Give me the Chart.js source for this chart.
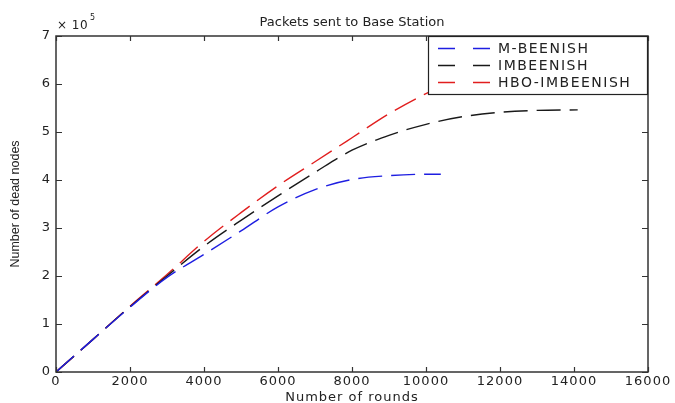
<!DOCTYPE html>
<html>
<head>
<meta charset="utf-8">
<script src="https://cdn.jsdelivr.net/npm/chart.js@4.4.1/dist/chart.umd.min.js"></script>
<style>
html, body { margin: 0; padding: 0; background: #fff; }
</style>
</head>
<body>
<canvas id="chart" width="675" height="403"></canvas>
<script>
// 回合數 (x) 與死亡節點數 (單位 x 10^5)
var roundsM = [0, 1000, 2000, 3000, 4000, 5000, 6000, 7000, 8000, 9000, 10000, 10400];
var mBeenish = [0, 0.68, 1.35, 1.97, 2.45, 2.94, 3.44, 3.80, 4.01, 4.09, 4.12, 4.12];

var roundsI = [0, 1000, 2000, 3000, 4000, 5000, 6000, 7000, 8000, 9000, 10000, 11000, 12000, 13000, 14100];
var imBeenish = [0, 0.68, 1.36, 2.00, 2.62, 3.16, 3.67, 4.16, 4.62, 4.93, 5.16, 5.32, 5.41, 5.45, 5.46];

var roundsH = [0, 1000, 2000, 3000, 4000, 5000, 6000, 7000, 8000, 9000, 10000, 11000, 12000];
var hboImBeenish = [0, 0.68, 1.37, 2.03, 2.72, 3.32, 3.88, 4.38, 4.88, 5.38, 5.80, 6.15, 6.42];

var seriesNames = ['M-BEENISH', 'IMBEENISH', 'HBO-IMBEENISH'];
var xTicks = [0, 2000, 4000, 6000, 8000, 10000, 12000, 14000, 16000];
var yTicks = [0, 1, 2, 3, 4, 5, 6, 7];

var seriesColors = ['rgb(30,30,225)', 'rgb(25,25,25)', 'rgb(225,30,30)'];

function toPoints(xs, ys) {
  return xs.map(function(x, i) { return { x: x, y: ys[i] }; });
}

function makeSet(i, xs, ys) {
  return {
    label: seriesNames[i],
    data: toPoints(xs, ys),
    borderColor: seriesColors[i],
    borderWidth: 1.4,
    borderDash: [24, 9],
    pointRadius: 0,
    fill: false,
    cubicInterpolationMode: 'monotone'
  };
}

// 外框、內向刻度、圖例、標題
var framePlugin = {
  id: 'frame',
  beforeDraw: function(chart) {
    chart.ctx.letterSpacing = '1px';
  },
  afterDatasetsDraw: function(chart) {
    var ctx = chart.ctx;
    var a = chart.chartArea;
    var xs = chart.scales.x, ys = chart.scales.y;
    ctx.save();
    ctx.letterSpacing = '0px';
    ctx.strokeStyle = '#333';
    ctx.lineWidth = 1.5;
    ctx.setLineDash([]);
    ctx.strokeRect(a.left, a.top, a.right - a.left, a.bottom - a.top);
    ctx.lineWidth = 1.2;
    ctx.beginPath();
    xTicks.forEach(function(v) {
      var px = Math.round(xs.getPixelForValue(v)) + 0.5;
      ctx.moveTo(px, a.bottom); ctx.lineTo(px, a.bottom - 5);
      ctx.moveTo(px, a.top); ctx.lineTo(px, a.top + 5);
    });
    yTicks.forEach(function(v) {
      var py = Math.round(ys.getPixelForValue(v)) + 0.5;
      ctx.moveTo(a.left, py); ctx.lineTo(a.left + 6, py);
      ctx.moveTo(a.right, py); ctx.lineTo(a.right - 6, py);
    });
    ctx.stroke();

    // 圖例
    var lx = 428, ly = a.top, lw = a.right - lx, lh = 59;
    ctx.fillStyle = '#fff';
    ctx.fillRect(lx, ly, lw, lh);
    ctx.strokeStyle = '#222';
    ctx.lineWidth = 1.2;
    ctx.strokeRect(lx + 0.5, ly + 0.5, lw - 1, lh - 1);
    ctx.font = '14px "DejaVu Sans"';
    ctx.letterSpacing = '1.5px';
    ctx.textBaseline = 'middle';
    ctx.textAlign = 'left';
    seriesNames.forEach(function(name, i) {
      var y = ly + 12.5 + i * 17;
      ctx.strokeStyle = seriesColors[i];
      ctx.lineWidth = 1.4;
      ctx.setLineDash([17, 18]);
      ctx.beginPath();
      ctx.moveTo(438, y); ctx.lineTo(493, y);
      ctx.stroke();
      ctx.fillStyle = '#222';
      ctx.fillText(name, 498, y + 1);
    });
    ctx.setLineDash([]);

    // 標題
    ctx.fillStyle = '#222';
    ctx.font = '13px "DejaVu Sans"';
    ctx.letterSpacing = '0px';
    ctx.textAlign = 'center';
    ctx.fillText('Packets sent to Base Station', (a.left + a.right) / 2, 23);

    // x 10^5
    ctx.textAlign = 'left';
    ctx.textBaseline = 'alphabetic';
    ctx.font = '12px "DejaVu Sans"';
    ctx.letterSpacing = '0.5px';
    ctx.fillText('\u00d7 10', a.left + 1, 29);
    ctx.font = '8px "DejaVu Sans"';
    ctx.fillText('5', a.left + 34, 20);

    // y 軸標題
    ctx.letterSpacing = '0px';
    ctx.font = '12.5px "Liberation Sans"';
    ctx.textAlign = 'center';
    ctx.textBaseline = 'middle';
    ctx.translate(16, (a.top + a.bottom) / 2);
    ctx.rotate(-Math.PI / 2);
    ctx.fillText('Number of dead nodes', 0, 0);
    ctx.restore();
  }
};

var ctx = document.getElementById('chart').getContext('2d');
new Chart(ctx, {
  type: 'line',
  data: {
    datasets: [
      makeSet(0, roundsM, mBeenish),
      makeSet(1, roundsI, imBeenish),
      makeSet(2, roundsH, hboImBeenish)
    ]
  },
  options: {
    responsive: false,
    animation: false,
    devicePixelRatio: 1,
    layout: { padding: { top: 36, right: 27, left: 0, bottom: 0 } },
    plugins: {
      legend: { display: false },
      tooltip: { enabled: false },
      title: { display: false }
    },
    scales: {
      x: {
        type: 'linear',
        min: 0,
        max: 16000,
        afterBuildTicks: function(scale) {
          scale.ticks = xTicks.map(function(v) { return { value: v }; });
        },
        afterFit: function(scale) { scale.height = 31; },
        grid: { display: false, drawTicks: false },
        border: { display: false },
        ticks: {
          padding: 2,
          maxRotation: 0,
          color: '#222',
          font: { family: 'DejaVu Sans', size: 13 },
          callback: function(v) { return String(v); }
        },
        title: {
          display: true,
          text: 'Number of rounds',
          color: '#222',
          padding: { top: 0, bottom: -2 },
          font: { family: 'DejaVu Sans', size: 13 }
        }
      },
      y: {
        type: 'linear',
        min: 0,
        max: 7,
        afterBuildTicks: function(scale) {
          scale.ticks = yTicks.map(function(v) { return { value: v }; });
        },
        afterFit: function(scale) { scale.width = 56; },
        grid: { display: false, drawTicks: false },
        border: { display: false },
        ticks: {
          padding: 5,
          color: '#222',
          font: { family: 'DejaVu Sans', size: 13 },
          callback: function(v) { return String(v); }
        }
      }
    }
  },
  plugins: [framePlugin]
});
</script>
</body>
</html>
